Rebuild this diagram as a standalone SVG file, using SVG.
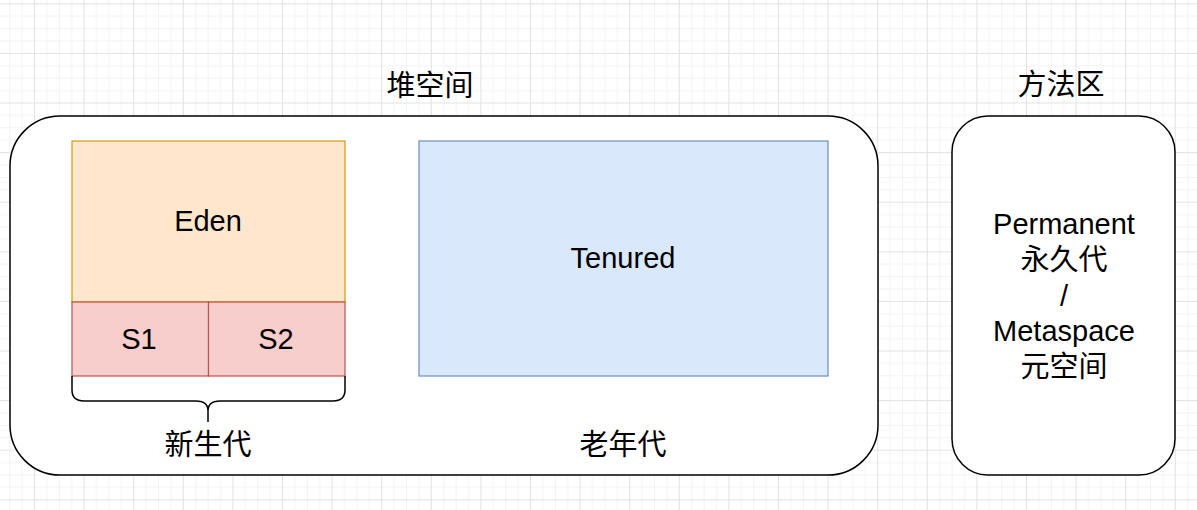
<svg xmlns="http://www.w3.org/2000/svg" width="1197" height="510" viewBox="0 0 1197 510">
  <defs>
    <pattern id="grid" patternUnits="userSpaceOnUse" x="34" y="3.3" width="49.6" height="49.6">
      <rect x="12.4" y="0" width="1" height="49.6" fill="#f3f3f3"/>
      <rect x="24.8" y="0" width="1" height="49.6" fill="#f3f3f3"/>
      <rect x="37.2" y="0" width="1" height="49.6" fill="#f3f3f3"/>
      <rect x="0" y="12.4" width="49.6" height="1" fill="#f3f3f3"/>
      <rect x="0" y="24.8" width="49.6" height="1" fill="#f3f3f3"/>
      <rect x="0" y="37.2" width="49.6" height="1" fill="#f3f3f3"/>
      <rect x="0" y="0" width="1" height="49.6" fill="#e2e2e2"/>
      <rect x="0" y="0" width="49.6" height="1" fill="#e2e2e2"/>
    </pattern>
    <style>
      .t { font-family: "Liberation Sans", "Noto Sans CJK SC", sans-serif; font-size: 29px; fill: #000; text-anchor: middle; }
      .container { fill: #ffffff; stroke: #000; stroke-width: 1.5; }
      .eden { fill: #ffe6cc; stroke: #d79b00; stroke-width: 1.2; }
      .surv { fill: #f8cecc; stroke: #b85450; stroke-width: 1.2; }
      .old { fill: #dae8fc; stroke: #6c8ebf; stroke-width: 1.2; }
    </style>
  </defs>
  <rect x="0" y="0" width="1197" height="510" fill="#ffffff"/>
  <rect x="0" y="0" width="1197" height="510" fill="url(#grid)"/>

  <g id="heap">
    <rect class="container" x="10" y="116" width="868" height="359" rx="50" ry="50"/>
    <text class="t" x="430" y="96">堆空间</text>
  </g>

  <g id="eden">
    <rect class="eden" x="72" y="141" width="273" height="161"/>
    <text class="t" x="208" y="231">Eden</text>
  </g>

  <g id="s1">
    <rect class="surv" x="72" y="302" width="136.5" height="74"/>
    <text class="t" x="139" y="349">S1</text>
  </g>

  <g id="s2">
    <rect class="surv" x="208.5" y="302" width="136.5" height="74"/>
    <text class="t" x="276" y="349">S2</text>
  </g>

  <g id="tenured">
    <rect class="old" x="419" y="141" width="409" height="235"/>
    <text class="t" x="623" y="268">Tenured</text>
  </g>

  <g id="young-label">
    <text class="t" x="208" y="455">新生代</text>
  </g>

  <g id="old-label">
    <text class="t" x="623" y="455">老年代</text>
  </g>

  <g id="method-area">
    <rect class="container" x="952" y="116" width="223" height="359" rx="36" ry="36"/>
    <text class="t" x="1061" y="95">方法区</text>
    <text class="t" x="1064" y="234">Permanent</text>
    <text class="t" x="1064" y="270">永久代</text>
    <text class="t" x="1064" y="306">/</text>
    <text class="t" x="1064" y="341">Metaspace</text>
    <text class="t" x="1064" y="377">元空间</text>
  </g>

  <g id="connectors">
    <path d="M72,376 V390 Q72,401 84,401 H196 Q208,401 208,411 V422 M208,411 Q208,401 220,401 H333 Q345,401 345,390 V376" fill="none" stroke="#000" stroke-width="1.5"/>
  </g>
</svg>
